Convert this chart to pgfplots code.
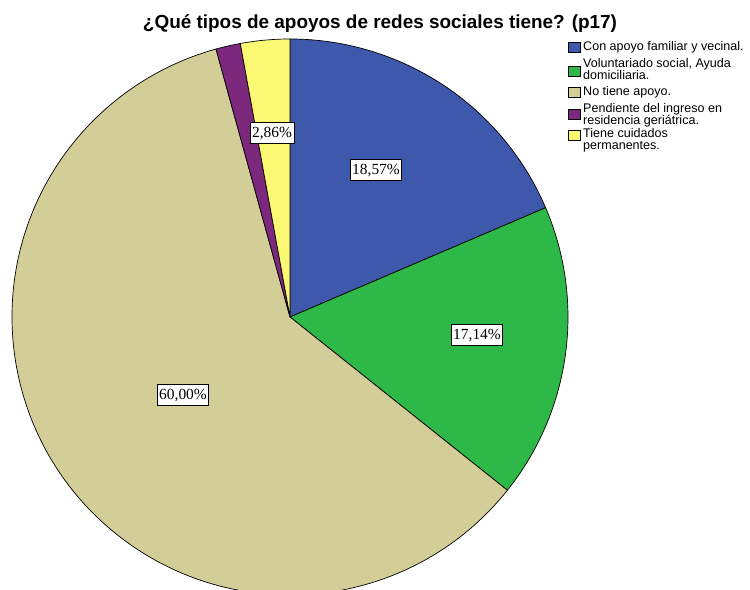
\documentclass[border=0pt]{standalone}
\usepackage{pgfplots}
\pgfplotsset{compat=1.18}
\usepackage{fontspec}
\setmainfont{Liberation Serif}
\newfontfamily\arial{Liberation Sans}
\definecolor{c1}{HTML}{3E58AC}
\definecolor{c2}{HTML}{2EB848}
\definecolor{c3}{HTML}{D3CE97}
\definecolor{c4}{HTML}{7C287D}
\definecolor{c5}{HTML}{FBF873}
% pie: centre (290,273), radius 278 (axis units = bp)
\def\cx{290}\def\cy{273}\def\R{278}
\def\cum{0}
\newcommand{\slice}[2]{% value (percent), colour
  \pgfmathsetmacro\aS{90-3.6*\cum}%
  \pgfmathsetmacro\aE{90-3.6*(\cum+#1)}%
  \pgfmathsetmacro\xS{\cx+\R*cos(\aS)}%
  \pgfmathsetmacro\yS{\cy+\R*sin(\aS)}%
  \edef\doslice{\noexpand\filldraw[fill=#2,draw=black,line width=0.7bp,line join=round]
    (axis cs:\cx,\cy) -- (axis cs:\xS,\yS) arc[start angle=\aS, end angle=\aE, radius=\R bp] -- cycle;}%
  \doslice
  \pgfmathsetmacro\newcum{\cum+#1}%
  \global\let\cum\newcum
}
\begin{document}
\begin{tikzpicture}
\begin{axis}[x=1bp,y=1bp,xmin=0,xmax=750,ymin=0,ymax=590,
  hide axis, clip=true, scale only axis]
\path (axis cs:0,0) rectangle (axis cs:750,590);
\slice{18.57}{c1}
\slice{17.14}{c2}
\slice{60.00}{c3}
\slice{1.43}{c4}
\slice{2.86}{c5}
% percentage labels
\tikzset{pl/.style={draw=black,fill=white,line width=0.7bp,inner xsep=2bp,inner ysep=4.5bp,text height=11bp,text depth=1.5bp,font=\fontsize{15.5}{17}\selectfont}}
\node[pl] at (axis cs:376,420) {18,57\%};
\node[pl] at (axis cs:477,255) {17,14\%};
\node[pl] at (axis cs:183,195) {60,00\%};
\node[pl] at (axis cs:272,457) {2,86\%};
% title
\node[anchor=base,font=\arial\bfseries\fontsize{19}{21}\selectfont] at (axis cs:380,561) {¿Qué tipos de apoyos de redes sociales tiene? (p17)};
% legend
\tikzset{lt/.style={anchor=base west,inner sep=0pt,font=\arial\fontsize{12.6}{14}\selectfont}}
\filldraw[fill=c1,draw=black,line width=0.6bp] (axis cs:568,538) rectangle (axis cs:580,548);
\node[lt] at (axis cs:583,539) {Con apoyo familiar y vecinal.};
\filldraw[fill=c2,draw=black,line width=0.6bp] (axis cs:568,514) rectangle (axis cs:580,524);
\node[lt] at (axis cs:583,522) {Voluntariado social, Ayuda};
\node[lt] at (axis cs:583,510) {domiciliaria.};
\filldraw[fill=c3,draw=black,line width=0.6bp] (axis cs:568,493) rectangle (axis cs:580,503);
\node[lt] at (axis cs:583,494) {No tiene apoyo.};
\filldraw[fill=c4,draw=black,line width=0.6bp] (axis cs:568,471) rectangle (axis cs:580,481);
\node[lt] at (axis cs:583,477) {Pendiente del ingreso en};
\node[lt] at (axis cs:583,465) {residencia geriátrica.};
\filldraw[fill=c5,draw=black,line width=0.6bp] (axis cs:568,450) rectangle (axis cs:580,460);
\node[lt] at (axis cs:583,452) {Tiene cuidados};
\node[lt] at (axis cs:583,440) {permanentes.};
\end{axis}
\end{tikzpicture}
\end{document}
